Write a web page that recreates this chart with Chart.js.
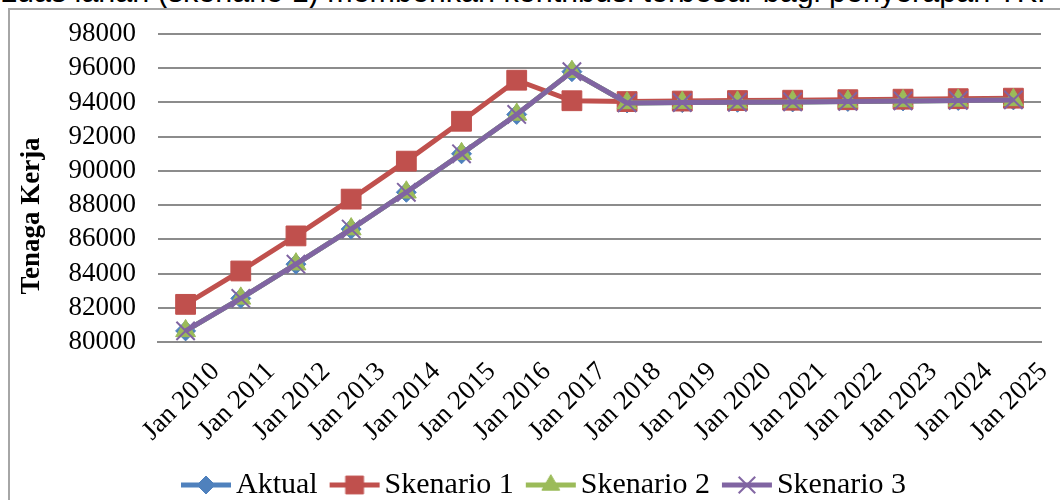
<!DOCTYPE html>
<html>
<head>
<meta charset="utf-8">
<script src="https://cdn.jsdelivr.net/npm/chart.js@4.4.1/dist/chart.umd.min.js"></script>
<style>
  html, body { margin: 0; padding: 0; background: #fff; }
  body { width: 1060px; height: 500px; position: relative; overflow: hidden; }
  #caption { position: absolute; left: 0; top: -26px; font: 30.5px "Liberation Sans", Arial, sans-serif; white-space: nowrap; color: #000; }
  #frame { position: absolute; left: 8px; top: 8px; width: 1100px; height: 600px; border: 2px solid #a6a6a6; }
  #wrap { position: absolute; left: 0; top: 0; width: 1060px; height: 500px; }
</style>
</head>
<body>
<div id="caption">Luas lahan (skenario 1) memberikan kontribusi terbesar bagi penyerapan TK.</div>
<div id="frame"></div>
<div id="wrap"><canvas id="chart" width="1060" height="500"></canvas></div>
<script>
const labels = ['Jan 2010','Jan 2011','Jan 2012','Jan 2013','Jan 2014','Jan 2015','Jan 2016','Jan 2017',
                'Jan 2018','Jan 2019','Jan 2020','Jan 2021','Jan 2022','Jan 2023','Jan 2024','Jan 2025']

const aktual    = [80650, 82550, 84550, 86600, 88750, 91000, 93300, 95800, 93970, 93990, 94010, 94030, 94060, 94090, 94120, 94150]
const skenario1 = [82200, 84150, 86200, 88350, 90570, 92900, 95300, 94100, 94050, 94080, 94110, 94130, 94160, 94190, 94220, 94250]
const skenario2 = [80650, 82550, 84550, 86600, 88750, 91000, 93300, 95800, 93970, 93990, 94010, 94030, 94060, 94090, 94120, 94150]
const skenario3 = [80650, 82550, 84550, 86600, 88750, 91000, 93300, 95800, 93970, 93990, 94010, 94030, 94060, 94090, 94120, 94150]

const yMin = 80000
const yMax = 98000
const yStep = 2000
const yTitle = 'Tenaga Kerja'

const serif = '"Liberation Serif", "Times New Roman", serif'

// legend icon: short line with the marker in the middle
function legendIcon(color, style, radius, width) {
    const c = document.createElement('canvas')
    c.width = 54
    c.height = 26
    const ctx = c.getContext('2d')
    ctx.strokeStyle = color
    ctx.fillStyle = color
    ctx.lineWidth = 5
    ctx.beginPath()
    ctx.moveTo(2, 13)
    ctx.lineTo(52, 13)
    ctx.stroke()
    ctx.lineWidth = width
    Chart.helpers.drawPoint(ctx, {pointStyle: style, radius: radius, rotation: 0, borderWidth: width}, 27, 13)
    return c
}

const series = [
    {label: 'Aktual',     data: aktual,    color: '#4F81BD', style: 'rectRot',  radius: 10, bw: 1},
    {label: 'Skenario 1', data: skenario1, color: '#C0504D', style: 'rect',     radius: 14, bw: 1},
    {label: 'Skenario 2', data: skenario2, color: '#9BBB59', style: 'triangle', radius: 11.5, bw: 1},
    {label: 'Skenario 3', data: skenario3, color: '#8064A2', style: 'crossRot', radius: 13, bw: 2}
]

const icons = series.map(s => legendIcon(s.color, s.style, s.radius * 0.9, s.bw))

// y title sits a bit lower than the plot centre, and the legend a bit right of the canvas centre
const layoutTweaks = {
    id: 'layoutTweaks',
    afterLayout(chart) {
        chart.legend.left += 24
        chart.legend.right += 24
    },
    afterDraw(chart) {
        const ctx = chart.ctx
        const area = chart.chartArea
        ctx.save()
        ctx.translate(32, (area.top + area.bottom) / 2 + 28)
        ctx.rotate(-Math.PI / 2)
        ctx.font = 'bold 27px ' + serif
        ctx.fillStyle = '#000'
        ctx.textAlign = 'center'
        ctx.textBaseline = 'middle'
        ctx.fillText(yTitle, 0, 0)
        ctx.restore()
    }
}

const canvasChart = document.getElementById('chart')

const myChart = new Chart(canvasChart, {
    type: 'line',
    data: {
        labels: labels,
        datasets: series.map((s, i) => ({
            label: s.label,
            data: s.data,
            borderColor: s.color,
            backgroundColor: s.color,
            borderWidth: 5,
            pointStyle: s.style,
            pointRadius: s.radius,
            pointBorderColor: s.color,
            pointBackgroundColor: s.color,
            pointBorderWidth: s.bw,
            tension: 0,
            order: series.length - i
        }))
    },
    plugins: [layoutTweaks],
    options: {
        responsive: false,
        animation: false,
        layout: {
            padding: {left: 8, right: 19, top: 34, bottom: -10}
        },
        plugins: {
            tooltip: {enabled: false},
            legend: {
                position: 'bottom',
                labels: {
                    usePointStyle: true,
                    pointStyleWidth: 30,
                    padding: 22,
                    color: '#000',
                    font: {family: serif, size: 30},
                    generateLabels: chart => chart.data.datasets.map((ds, i) => ({
                        text: ds.label,
                        pointStyle: icons[i],
                        datasetIndex: i,
                        hidden: false,
                        lineWidth: 0,
                        fillStyle: ds.borderColor,
                        strokeStyle: ds.borderColor
                    }))
                }
            }
        },
        scales: {
            x: {
                offset: true,
                grid: {display: false},
                border: {display: true, color: '#8c8c8c', width: 2},
                ticks: {
                    color: '#000',
                    font: {family: serif, size: 27},
                    minRotation: 45,
                    maxRotation: 45,
                    autoSkip: false,
                    padding: 6,
                    labelOffset: 30
                },
                afterFit: s => { s.height = 106 }
            },
            y: {
                min: yMin,
                max: yMax,
                grid: {color: '#8c8c8c', lineWidth: 2, drawTicks: false},
                border: {display: false},
                ticks: {
                    stepSize: yStep,
                    autoSkip: false,
                    color: '#000',
                    padding: 22,
                    font: {family: serif, size: 27},
                    callback: v => String(v)
                },
                afterFit: s => {
                    s.width = 150
                    s.paddingTop = 0
                    s.paddingBottom = 0
                }
            }
        }
    }
})
</script>
</body>
</html>
